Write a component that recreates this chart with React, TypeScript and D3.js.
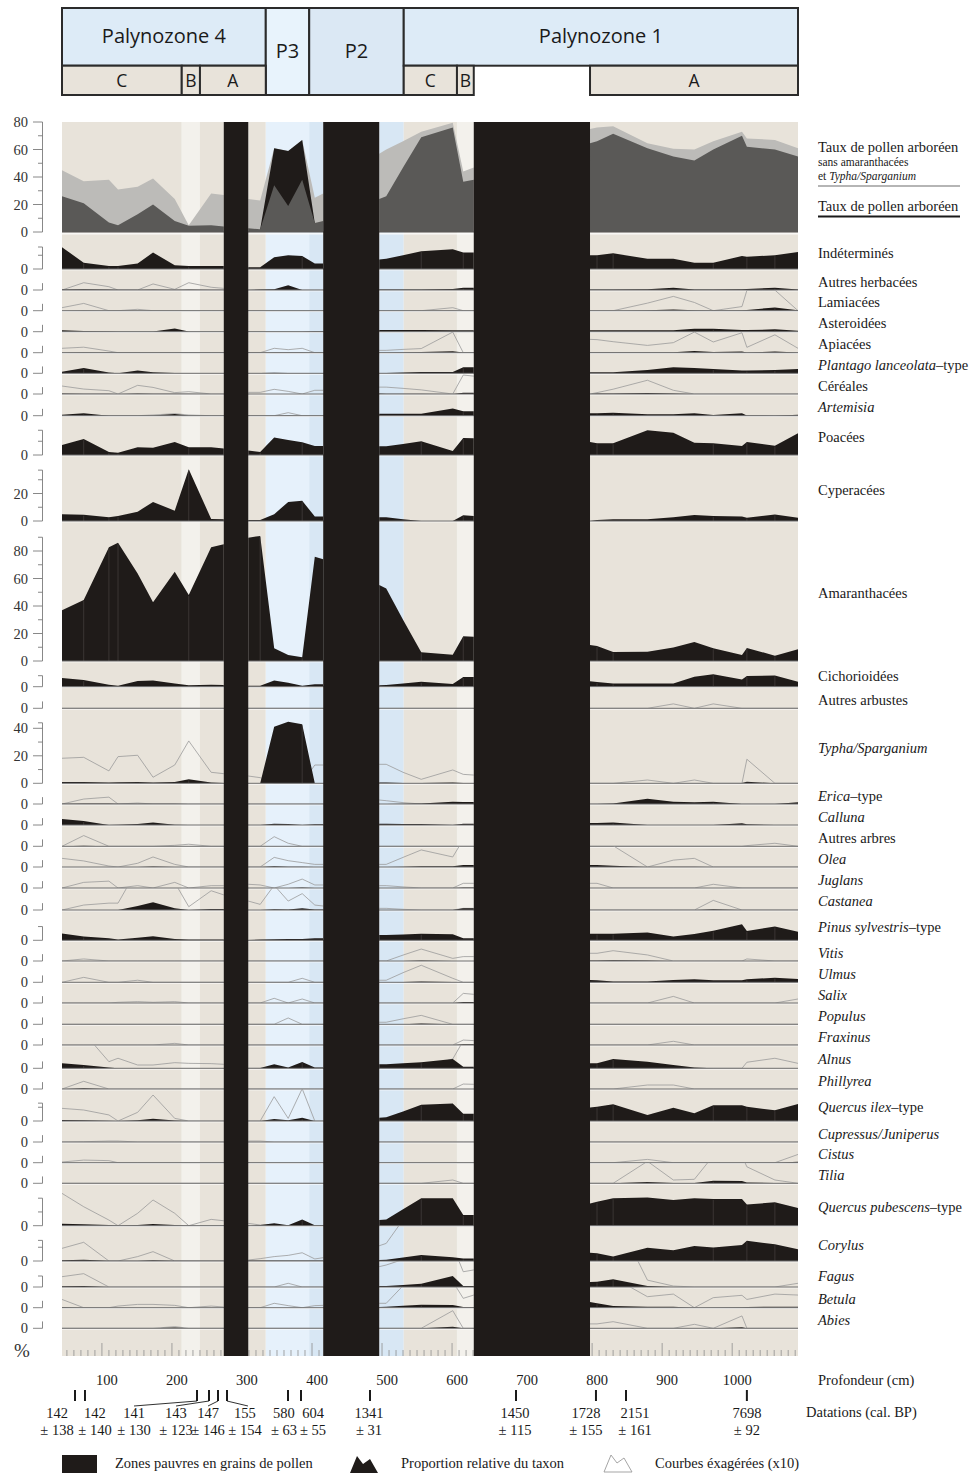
import React from "react";
import * as d3 from "d3";

// ---------- DATA ----------
const depths = [43, 74, 110, 123, 151, 173, 204, 224, 256, 274, 309, 326, 346, 366, 386, 404, 416, 496, 506, 530, 556, 601, 616, 631, 797, 807, 830, 879, 916, 946, 973, 1014, 1021, 1061, 1094];
const sectionBounds = [[0, 10], [10, 17], [17, 24], [24, 35]];
const poorZones = [[274, 309], [416, 496], [631, 797]];
const bandZones: [number, number, string][] = [
  [43, 214, "beige"], [214, 240, "pale"], [240, 274, "beige"], [309, 334, "beige"], [334, 396, "blueLight"],
  [396, 416, "blue"], [496, 531, "blue"], [531, 607, "beige"], [607, 631, "pale"], [797, 1094, "beige"],
];
const mainZones: [string, number, number, string][] = [
  ["Palynozone 4", 43, 334, "pz"], ["P3", 334, 396, "p3"], ["P2", 396, 531, "p2"], ["Palynozone 1", 531, 1094, "pz"],
];
const subZones: [string, number, number][] = [
  ["C", 43, 214], ["B", 214, 240], ["A", 240, 334], ["C", 531, 607], ["B", 607, 631], ["A", 797, 1094],
];
const coreBreakIdx = [1, 2, 3, 7, 11, 14, 20, 22, 25, 26, 30, 32, 33];

const depthTicks = [100, 200, 300, 400, 500, 600, 700, 800, 900, 1000];
const dateDepths = [61.6, 75.8, 235.8, 252.9, 265.8, 278.6, 365.7, 384.3, 482.8, 691.3, 805.5, 848.4, 1021];
const dateAges = ["142", "142", "141", "143", "147", "155", "580", "604", "1341", "1450", "1728", "2151", "7698"];
const dateErrors = ["± 138", "± 140", "± 130", "± 123", "± 146", "± 154", "± 63", "± 55", "± 31", "± 115", "± 155", "± 161", "± 92"];

const taux = [26, 21, 7, 5, 13, 20, 8, 4.6, 5, 4, 2.7, 2, 34, 19, 38, 6.5, 8, 24, 26, 47, 69, 76, 36.5, 38, 64.5, 66, 71.5, 61, 55, 52, 60, 70, 62, 60, 55];
const tauxSans = [45, 37, 38, 31, 33, 39, 24, 5, 28, 27, 24, 23, 61, 59, 67, 25, 28, 57, 60, 66, 73, 79.5, 44, 47, 75, 76, 77, 64.5, 60.5, 60, 66, 73, 68, 67, 61];
const tauxP3 = [null, null, null, null, null, null, null, null, null, null, null, 2, 61, 59, 67, 6.5, null, null, null, null, null, null, null, null, null, null, null, null, null, null, null, null, null, null, null];

const indet = [15.8, 4.6, 2.2, 2.2, 4, 12, 2.7, 2.2, 2.2, 2.2, 1.2, 1.2, 8.5, 10, 9.5, 4, 4, 7, 7.5, 10, 13, 14.3, 12, 12, 10, 10, 11.4, 7.5, 7.5, 4.6, 4.6, 9.5, 9, 10, 12.4];
const autresHerb = [0.3, 0.5, 0.3, 0.2, 0.2, 0.3, 0.2, 0.3, 0.2, 0.2, 0, 0.3, 0.6, 3.4, 0, 0, 0, 0.3, 0.3, 0.3, 0.3, 0.8, 1.7, 1.7, 0.3, 0.3, 0.3, 0.5, 1.7, 0.3, 0.3, 0.5, 0.8, 1.7, 0.3];
const autresHerbX = [0, 5.3, 2.4, 0, 0, 4.4, 0.5, 5.3, 2, 1.2, 0, 0, 0, 0, 0, 0, 0, 0, 0, 0, 0, 0, 0, 0, 0, 0, 0, 0, 0, 0, 0, 0, 0, 0, 0];
const lamiacees = [0, 0.2, 0, 0, 0, 0, 0, 0, 0, 0, 0, 0, 0, 0, 0, 0, 0, 0, 0, 0, 0, 0.2, 0, 0, 0, 0, 0, 0.3, 0.8, 0.3, 0.1, 0.3, 0.5, 2.4, 0.3];
const lamiaceesX = [2.2, 5.3, 0, 0, 1, 0, 0, 0, 0, 0, 0, 0, 0, 0, 0, 0, 0, 0, 0, 0, 0, 2.2, 0, 0, 0, 0, 0, 5.5, 10.4, 6, 0, 3, 14.8, 15, 0];
const asteroidees = [1, 0.5, 0.3, 0.2, 0.2, 0.2, 2.4, 0.2, 0.2, 0.2, 0.2, 0.2, 0.2, 0.2, 0.2, 0.5, 0.5, 1.2, 1.2, 1.2, 1.2, 1, 1, 1, 1, 1, 1, 1, 1, 2.2, 2.2, 1.2, 1.2, 1.7, 0.7];
const apiacees = [0.2, 0.3, 0.2, 0.2, 0.2, 0.2, 0.2, 0.2, 0.2, 0.2, 0.2, 0.2, 0.3, 0.3, 0.3, 0.2, 0.2, 0.2, 0.2, 0.3, 0.5, 1, 0.2, 0.2, 0.3, 0.3, 0.3, 0.3, 0.3, 1.2, 0.5, 0.8, 0.2, 0.8, 0.2];
const apiaceesX = [3.2, 4, 1.2, 0, 0, 0, 0, 0, 0, 0, 0, 0, 3.2, 2.2, 3.2, 0, 0, 1.7, 1.7, 2.4, 3, 15, 0, 0, 9.7, 9.5, 8, 5.3, 7.3, 15, 7.8, 14.5, 3.9, 13, 3.2];
const plantago = [1.2, 3.9, 0.5, 0, 2, 0.7, 0.3, 0.2, 0.2, 0.2, 0.2, 0.2, 0.4, 0.2, 0.2, 0.2, 0.2, 0.2, 0.3, 0.5, 1, 1, 4.4, 4.4, 0.7, 0.7, 0.7, 2.4, 4.4, 3.9, 3.2, 2, 2, 2.4, 3.2];
const cereales = [0.3, 0.1, 0.1, 0, 0.3, 0.1, 0.1, 0.1, 0, 0, 0, 0, 0, 0, 0, 0, 0, 0.3, 0.2, 0.1, 0.1, 0, 1, 1, 0, 0.3, 0.3, 0.8, 0.3, 0, 0, 0, 0, 0, 0];
const cerealesX = [5.8, 3.6, 2.4, 0, 6.3, 4.8, 1, 1.7, 0, 0, 1.2, 1.2, 3.4, 1.9, 0, 2.7, 2.7, 5, 5, 4.1, 3, 0, 13.8, 13, 0, 1, 3.5, 10, 2.7, 0, 0, 0, 0, 0, 0];
const artemisia = [0.7, 1.7, 0, 0, 0, 0.2, 1.2, 0.2, 0, 0, 0, 0, 0, 0.3, 0, 0, 0, 1.5, 1.5, 1.5, 1.5, 5.3, 3.2, 3.2, 1.7, 1.7, 2.2, 1, 1, 1.7, 0.5, 1.7, 0.2, 0, 0.7];
const artemisiaX = [0, 0, 0, 0, 0, 0.5, 1.5, 0.5, 0, 0, 0, 0, 0, 2.2, 0, 0, 0, 0, 0, 0, 0, 0, 0, 0, 0, 0, 0, 0, 0, 0, 0, 0, 0, 0, 0];
const poacees = [7.3, 11.6, 2.2, 1.7, 5.6, 5.3, 9.5, 5.6, 5.6, 4.8, 3.2, 2.2, 12.8, 10.9, 9.2, 6.5, 6.5, 6.3, 6.3, 8, 10, 2.9, 12.4, 12.1, 9.5, 8.5, 8.5, 18, 16.2, 9, 8.5, 6.5, 9.5, 6.8, 15.8];
const cyperacees = [5, 4.6, 2.7, 3.6, 6.8, 13.8, 7.5, 37.6, 1.5, 1.2, 0.7, 0.7, 5, 13.8, 14.8, 3.2, 3.2, 2.7, 2.7, 1.2, 0, 0, 4.1, 3.6, 0, 0.7, 1.2, 1.2, 2.7, 4.4, 3.6, 3.2, 2.4, 4.8, 2.4];
const amaranth = [37, 44.4, 82.7, 86, 63.7, 42.7, 65, 48, 82.7, 85, 89.7, 91, 9.2, 4.4, 2.7, 75.9, 74, 55.3, 52.8, 30, 6.3, 4.6, 18, 17.7, 11.6, 11, 6.5, 6.8, 9.9, 13.8, 9.2, 4.4, 9.5, 3.9, 8.5];
const cichorioidees = [6.3, 4.8, 1.5, 0.7, 4.1, 4.6, 2.4, 1, 1.5, 1.2, 0.7, 0.7, 4.6, 2.9, 0.7, 1.7, 1.7, 1, 1.2, 2.4, 3.6, 1.9, 7, 7, 3.9, 3.4, 2.4, 2.4, 2.4, 7.3, 9, 5.3, 7.8, 8.2, 3.6];
const autresArbustes = [0, 0, 0, 0, 0, 0, 0, 0, 0, 0, 0, 0, 0, 0, 0, 0, 0, 0, 0, 0, 0, 0, 0, 0, 0, 0, 0, 0, 0, 0, 0, 0, 0, 0, 0];
const autresArbustesX = [0, 0, 0, 0, 0, 0, 0, 0, 0, 0, 0, 0, 0, 0, 0, 0, 0, 0, 0, 0, 0, 0, 0, 0, 0, 0, 0, 0, 3.2, 0, 3.2, 0, 0, 0, 0];
const typha = [1, 1, 0.5, 0.7, 1, 0.5, 1, 2.9, 0.5, 0.2, 0, 0, 41.2, 44.8, 42.9, 0, 0, 0.5, 0.5, 0.3, 0.3, 0.5, 0.3, 0.3, 0, 0, 0, 0.2, 0, 0.2, 0, 0.3, 1.2, 0, 0];
const typhaX = [18.2, 18.9, 9, 19.4, 20.4, 4.4, 13.3, 30.8, 8, 7, 5.3, 4.1, 0, 0, 0, 13.3, 13.3, 13.8, 13.8, 8, 2.9, 9.7, 6.5, 6, 0, 0, 0, 2.4, 0, 2.4, 0, 0, 17.5, 0, 0];
const erica = [0.2, 0.3, 0.3, 0.2, 0.2, 0.2, 0.1, 0, 0, 0, 0, 0, 0, 0, 0, 0, 0, 0, 0, 0.1, 0.3, 1.7, 1.5, 1.5, 0, 0, 0.3, 3.8, 1.7, 1.2, 1.7, 0, 0, 0, 1.2];
const ericaX = [0, 3.6, 5, 0, 0.7, 0, 0, 0, 0, 0, 0, 0, 0, 0, 0, 0, 0, 2.9, 2.4, 1, 0, 0, 0, 0, 0, 0, 0, 0, 0, 0, 0, 0, 0, 0, 0];
const calluna = [4.4, 2.9, 0, 0.2, 0.7, 1.9, 0.2, 0, 0, 0, 0, 0, 1, 0.7, 0, 0.5, 0.5, 1, 1, 0.8, 0.7, 0, 1, 1, 1.5, 1.5, 1.9, 0, 0, 0, 0, 1.2, 0.5, 0, 0];
const autresArbres = [0, 0.4, 0, 0, 0, 0, 0, 0, 0, 0, 0, 0, 0.3, 0, 0, 0, 0, 0, 0, 0, 0, 0, 0, 0, 0, 0, 0, 0, 0, 0, 0, 0, 0, 0, 0];
const autresArbresX = [0, 7.8, 0, 0, 0, 0, 0.7, 1.5, 0, 0, 0, 0, 7, 2.2, 0, 0, 0, 0, 0, 0, 0, 0, 0, 0, 0, 0, 0, 0, 0, 0, 0, 0, 0.5, 2.2, 0];
const olea = [0, 0, 0, 0, 0, 0.3, 0, 0, 0, 0, 0, 0, 0.5, 0.2, 0.2, 0, 0, 0, 0, 0.2, 0.5, 0.5, 1.5, 1.5, 1.5, 1.5, 1, 0, 0.2, 0.2, 0, 0, 0, 0, 0];
const oleaX = [6.3, 4.4, 0.7, 0, 2.7, 7.3, 1.9, 0, 0, 0, 0, 0, 7, 4.6, 3.2, 1.9, 1.9, 1.9, 1.9, 7, 12.4, 7.3, 20, 20, 20, 20, 15.5, 0, 5, 6.3, 0, 0, 0, 0, 0];
const juglans = [0, 0, 0, 0, 0, 0, 0, 0, 0, 0, 0, 0, 0, 0, 0.3, 0, 0, 0, 0, 0, 0, 0, 0.3, 0.3, 0, 0, 0, 0, 0, 0, 0, 0, 0, 0, 0];
const juglansX = [0, 4.1, 5, 0, 1.7, 0, 4.1, 0, 1.7, 1.7, 2.7, 2.2, 0, 2.7, 6.5, 2.2, 2.2, 1.7, 1.7, 0.8, 0, 0, 3.4, 3.4, 3.4, 3.4, 0, 0, 0, 0, 2.7, 0, 0, 0, 0];
const castanea = [0, 0, 0, 0, 2.9, 5.6, 1.2, 0, 0.7, 0.7, 0, 0, 0.5, 0.3, 1.2, 0.3, 0.3, 0, 0, 0, 0, 0, 1.2, 1.2, 0, 0, 0, 0, 0, 0, 0.5, 0, 0, 0, 0];
const castaneaX = [0, 3.6, 5, 5, 30, 50, 20, 2.4, 14, 11, 6.5, 4.1, 18, 6.5, 11.9, 3.6, 2.9, 1.2, 1.2, 0.5, 0, 0, 1.2, 1.2, 0, 0, 0, 0, 0, 0, 7, 0, 0, 0, 0];
const pinus = [5, 2.7, 1.5, 0.5, 1.9, 2.9, 1, 0.5, 0.5, 0.5, 0.3, 0.5, 0.7, 1, 1, 1.5, 1.5, 3.9, 3.9, 4.3, 4.8, 4.4, 1.5, 1.5, 4.8, 4.8, 4.8, 5.6, 2.7, 4.6, 7, 11.6, 6.8, 10, 6.3];
const vitis = [0, 0, 0, 0, 0, 0, 0, 0, 0, 0, 0, 0, 0, 0, 0, 0, 0, 0, 0, 0, 0.3, 0, 0, 0, 0.3, 0.3, 0.5, 0.3, 0, 0, 0, 0, 0, 0, 0];
const vitisX = [0, 1.5, 0, 0, 0, 0, 0, 0, 0, 0, 0, 0, 0, 0, 0, 0, 0, 0, 0, 4.3, 8.7, 1.9, 3.2, 3.2, 5.6, 5.6, 7.5, 4.4, 0, 0, 0, 0, 1.5, 0, 0];
const ulmus = [0, 0, 0, 0, 0, 0, 0, 0, 0, 0, 0, 0, 0, 0, 0, 0, 0, 0, 0, 0.2, 0.5, 0.2, 0, 0, 1.7, 1.5, 0.5, 0.5, 1.7, 2.2, 1.5, 1.5, 2.2, 3.4, 2.4];
const ulmusX = [0, 3.6, 0, 0, 1.5, 0, 0, 0, 0, 0, 0, 0, 0, 0, 2.9, 0, 0, 1.5, 1.5, 7, 12.4, 2.9, 0, 0, 0, 0, 0, 0, 0, 0, 0, 0, 0, 0, 0];
const salix = [0, 0, 0, 0, 0, 0, 0, 0, 0, 0, 0, 0, 0, 0, 0, 0, 0, 0, 0, 0, 0, 0, 0.7, 0.7, 0, 0, 0, 0, 0, 0, 0, 0, 0, 0, 0];
const salixX = [0, 0, 0, 0.5, 1, 0.5, 1, 0, 0, 0, 0, 0, 3.4, 0, 2.9, 0, 0, 0, 0, 0, 0, 0, 7, 6.3, 0, 0, 0, 0, 4.8, 0, 0, 0, 0, 0, 2.9];
const populus = [0, 0, 0, 0, 0, 0, 0, 0, 0, 0, 0, 0, 0, 0, 0, 0, 0, 0, 0, 0, 0.5, 0, 0, 0, 0, 0, 0, 0, 0, 0, 0, 0, 0, 0, 0];
const populusX = [0, 0, 0, 0, 0, 0, 0, 0, 0, 0, 0, 0, 0, 4.6, 0, 0, 0, 1.5, 1.5, 4, 6.5, 0, 0, 0, 0, 0, 0, 0, 0, 0, 0, 0, 0, 0, 0];
const fraxinus = [0, 0, 0, 0, 0, 0, 0, 0, 0, 0, 0, 0, 0, 0, 0, 0, 0, 0, 0, 0, 0, 0, 0.5, 0.5, 0, 0, 0, 0, 0, 0, 0, 0, 0, 0, 0];
const fraxinusX = [0, 0, 0, 0, 0, 0, 1.2, 0, 0, 0, 0, 0, 0, 0, 0, 0, 0, 0, 0, 0, 0, 0, 3.6, 3.2, 0, 0, 0, 0, 2.7, 0, 0, 0, 0, 0, 0];
const alnus = [3.6, 2.4, 0.5, 0, 0, 0, 0, 0, 0, 0, 0, 0.3, 2.9, 0.5, 4.6, 0.5, 0.5, 2.9, 2.9, 3.6, 4.4, 6.8, 1.2, 1.2, 3.6, 3.6, 6.8, 4.8, 2.4, 0.5, 0, 0, 0, 0, 0];
const alnusX = [30, 26, 4.8, 7.3, 2.4, 2.4, 4.1, 3.6, 3.4, 2.9, 0, 0, 0, 0, 0, 0, 0, 0, 0, 0, 0, 6.8, 20, 20, 0, 0, 0, 0, 0, 0, 0, 0, 4.4, 7.3, 3.6];
const phillyrea = [0, 0.5, 0, 0, 0, 0, 0, 0, 0, 0, 0, 0, 0, 0, 0, 0, 0, 0, 0, 0, 0, 0, 0, 0, 0, 0, 0, 0, 0, 0, 0, 0, 0, 0, 0];
const phillyreaX = [0, 5.6, 0, 0, 0, 0, 0, 0, 0, 0, 0, 0, 0, 0, 0, 0, 0, 0, 0, 0, 0, 0, 3.6, 3.4, 0, 0, 0, 2.9, 2.9, 0, 0, 0, 0, 0, 0];
const quercusIlex = [0.7, 0.5, 0.2, 0, 0.5, 1.7, 0.3, 0, 0, 0, 0, 0, 1.5, 0.5, 2.4, 0, 0, 2.4, 2.7, 7, 11.9, 12.8, 5.3, 5.3, 9.9, 10.4, 12.1, 4.4, 9.7, 5.6, 11.4, 11.4, 10.4, 7.8, 12.4];
const quercusIlexX = [9.2, 8, 4.4, 0, 6.3, 18.9, 1.9, 0, 0, 0, 0, 0, 17.7, 1.9, 23.5, 0, 0, 0, 0, 0, 0, 0, 0, 0, 0, 0, 0, 0, 0, 0, 0, 0, 0, 0, 0];
const cupressus = [0, 0, 0, 0, 0, 0, 0, 0, 0, 0, 0, 0, 0, 0, 0, 0, 0, 0, 0, 0, 0, 0, 0, 0, 0, 0, 0, 0, 0, 0, 0, 0, 0, 0, 0];
const cupressusX = [0, 0.2, 0.7, 0.7, 0, 0, 0, 0, 0, 0, 0.7, 0.7, 0, 0, 0, 0, 0, 0, 0, 0, 0, 0, 0, 0, 0, 0, 0, 0, 0, 0, 0, 0, 0, 0, 0];
const cistus = [0, 0, 0, 0, 0, 0, 0, 0, 0, 0, 0, 0, 0, 0, 0, 0, 0, 0, 0, 0, 0, 0, 0, 0, 0, 0, 0, 0, 0, 0, 0, 0, 0, 0, 0.7];
const cistusX = [0.5, 1.9, 1.5, 0, 0, 0, 0, 0, 0, 0, 0, 0, 0, 0, 0, 0, 0, 0, 0, 0, 0, 0, 0, 0, 0, 0, 0, 2.4, 0, 0, 0, 0, 0, 0, 6];
const tilia = [0, 0, 0, 0, 0, 0, 0, 0, 0, 0, 0, 0, 0, 0, 0, 0, 0, 0, 0, 0, 0, 0, 0, 0, 0, 0, 0, 1, 0.3, 0.2, 1.9, 1.7, 0.5, 0.2, 0];
const tiliaX = [0, 0, 0, 0, 0, 0, 0, 0, 0, 0, 0, 0, 0, 0, 0, 0, 0, 0, 0, 0, 0, 2.4, 0, 0, 0, 0, 0, 16, 2.4, 2.9, 20, 20, 12, 2.4, 0];
const quercusPub = [1.5, 1, 0.5, 0.2, 0.5, 1.2, 0.5, 0.2, 0.2, 0.2, 0, 0.5, 1.7, 0.3, 4.6, 0.3, 0.3, 4.1, 4.6, 12, 19.9, 19.9, 7.8, 7.8, 16.2, 17.5, 20, 20.6, 18.7, 20, 19.4, 19.4, 15.5, 17, 12.8];
const quercusPubX = [23.5, 13.8, 4.1, 0, 9, 18.7, 9, 0, 4.6, 3.6, 1.7, 0.5, 0, 0, 0, 0, 0, 0, 0, 0, 0, 0, 0, 0, 0, 0, 0, 0, 0, 0, 0, 0, 0, 0, 0];
const corylus = [0.5, 1, 0.2, 0.2, 0.2, 0.5, 0.2, 0.2, 0.2, 0.2, 0.3, 0.3, 0.3, 0.3, 0.3, 0.3, 0.3, 0.7, 1, 2.5, 4.4, 2.7, 1.9, 1.9, 6, 5.6, 3.2, 9.7, 7.8, 10.9, 9.9, 11.6, 14.8, 12.1, 8.5];
const corylusX = [9.2, 13.6, 0, 0, 3.2, 6.8, 0, 0, 0, 0, 0.7, 1.7, 3.2, 4.1, 6, 1.5, 2.4, 11.1, 12.8, 30, 44, 40, 30, 30, 0, 0, 0, 0, 0, 0, 0, 0, 0, 0, 0];
const fagus = [0.5, 0.7, 0, 0, 0, 0, 0, 0, 0, 0, 0, 0, 0, 0, 0, 0, 0, 0.7, 0.7, 1.5, 2.4, 8, 0.7, 0.7, 3.6, 3.9, 5.6, 0.7, 0, 0, 0, 0, 0, 0, 0];
const fagusX = [7.5, 9.7, 0, 0, 0, 0, 0, 0, 0, 0, 0, 0, 0, 2.7, 0, 0, 0, 14.8, 16, 20, 30, 30, 11.1, 12.4, 36, 39, 55, 5, 0.7, 0, 0, 0, 0, 0, 2.7];
const betula = [0.5, 0, 0, 0, 0, 0, 0, 0, 0, 0, 0, 0, 0, 0, 0, 0, 0, 0.5, 0.7, 1.5, 2.2, 1.9, 0.5, 0.5, 4.1, 3.2, 1.2, 0.7, 0.7, 0, 0.2, 0.3, 0.5, 0.7, 0.7];
const betulaX = [6, 0, 0, 1.2, 2.4, 2.4, 1.7, 0, 1.2, 0.5, 0, 0, 3.2, 1.5, 0, 1.5, 1.7, 3.2, 3.2, 16, 22, 19, 6.8, 9.2, 41, 32, 22, 8, 9.9, 0, 7.3, 9, 6, 9.9, 9.2];
const abies = [0, 0, 0, 0, 0, 0, 0.5, 0, 0, 0, 0, 0, 0, 0, 0, 0, 0, 0, 0, 0, 0, 1.2, 0, 0, 0.3, 0.3, 0.3, 0, 0, 0, 0, 0.7, 0, 0, 0];
const abiesX = [0, 0, 0, 0, 0, 0, 1.2, 0, 0, 0, 0, 0, 0, 0, 0, 0, 0, 0, 0, 0, 0, 12.8, 0, 0, 3.2, 3.2, 4.8, 0, 0, 2.9, 0, 9, 0, 0, 0];

type Seg = [string, boolean];
type Taxon = { label: Seg[]; values: number[]; exag?: number[]; axisMax: number; axisLabels?: number[] };

const taxa: Taxon[] = [
  { label: [["Indéterminés", false]], values: indet, axisMax: 16 },
  { label: [["Autres herbacées", false]], values: autresHerb, exag: autresHerbX, axisMax: 5 },
  { label: [["Lamiacées", false]], values: lamiacees, exag: lamiaceesX, axisMax: 5 },
  { label: [["Asteroidées", false]], values: asteroidees, axisMax: 5 },
  { label: [["Apiacées", false]], values: apiacees, exag: apiaceesX, axisMax: 5 },
  { label: [["Plantago lanceolata", true], ["–type", false]], values: plantago, axisMax: 5 },
  { label: [["Céréales", false]], values: cereales, exag: cerealesX, axisMax: 5 },
  { label: [["Artemisia", true]], values: artemisia, exag: artemisiaX, axisMax: 5 },
  { label: [["Poacées", false]], values: poacees, axisMax: 18 },
  { label: [["Cyperacées", false]], values: cyperacees, axisMax: 37, axisLabels: [20] },
  { label: [["Amaranthacées", false]], values: amaranth, axisMax: 90, axisLabels: [20, 40, 60, 80] },
  { label: [["Cichorioidées", false]], values: cichorioidees, axisMax: 8 },
  { label: [["Autres arbustes", false]], values: autresArbustes, exag: autresArbustesX, axisMax: 5 },
  { label: [["Typha/Sparganium", true]], values: typha, exag: typhaX, axisMax: 44, axisLabels: [20, 40] },
  { label: [["Erica", true], ["–type", false]], values: erica, exag: ericaX, axisMax: 5 },
  { label: [["Calluna", true]], values: calluna, axisMax: 5 },
  { label: [["Autres arbres", false]], values: autresArbres, exag: autresArbresX, axisMax: 5 },
  { label: [["Olea", true]], values: olea, exag: oleaX, axisMax: 5 },
  { label: [["Juglans", true]], values: juglans, exag: juglansX, axisMax: 5 },
  { label: [["Castanea", true]], values: castanea, exag: castaneaX, axisMax: 5 },
  { label: [["Pinus sylvestris", true], ["–type", false]], values: pinus, axisMax: 10 },
  { label: [["Vitis", true]], values: vitis, exag: vitisX, axisMax: 5 },
  { label: [["Ulmus", true]], values: ulmus, exag: ulmusX, axisMax: 5 },
  { label: [["Salix", true]], values: salix, exag: salixX, axisMax: 5 },
  { label: [["Populus", true]], values: populus, exag: populusX, axisMax: 5 },
  { label: [["Fraxinus", true]], values: fraxinus, exag: fraxinusX, axisMax: 5 },
  { label: [["Alnus", true]], values: alnus, exag: alnusX, axisMax: 5 },
  { label: [["Phillyrea", true]], values: phillyrea, exag: phillyreaX, axisMax: 5 },
  { label: [["Quercus ilex", true], ["–type", false]], values: quercusIlex, exag: quercusIlexX, axisMax: 13 },
  { label: [["Cupressus/Juniperus", true]], values: cupressus, exag: cupressusX, axisMax: 5 },
  { label: [["Cistus", true]], values: cistus, exag: cistusX, axisMax: 5 },
  { label: [["Tilia", true]], values: tilia, exag: tiliaX, axisMax: 5 },
  { label: [["Quercus pubescens", true], ["–type", false]], values: quercusPub, exag: quercusPubX, axisMax: 20 },
  { label: [["Corylus", true]], values: corylus, exag: corylusX, axisMax: 15 },
  { label: [["Fagus", true]], values: fagus, exag: fagusX, axisMax: 8 },
  { label: [["Betula", true]], values: betula, exag: betulaX, axisMax: 5 },
  { label: [["Abies", true]], values: abies, exag: abiesX, axisMax: 5 },
];

// ---------- LAYOUT ----------
const panelHeights = [110, 37, 21, 20.7, 21, 21, 20.6, 20.7, 21.7, 39.3, 66, 140, 25.7, 21.6, 75, 20.7, 21, 21.3, 20.7, 21, 22, 30.3, 20.7, 21.3, 20.7, 21.3, 20.7, 23.3, 20.7, 32, 21, 20.7, 20.6, 42.4, 35.3, 26, 20.7, 20.6];
const dateLabelShift = [-18, 10, -63, -33, -10, 18, -4, 12, -1, -1, -10, 9, 0];
const K = 1.375;
const CHART_TOP = 122;
const CHART_BOTTOM = 1356;
const X0 = 62;
const X1 = 798;
const AXIS_X = 42.5;
const LABEL_X = 818;

const COLORS: Record<string, string> = {
  beige: "#e8e3da",
  pale: "#f3f1ec",
  blueLight: "#e6f1fb",
  blue: "#d8e7f4",
  pz: "#ddebf7",
  p3: "#e8f3fc",
  p2: "#dbe8f4",
};
const BLACK = "#1f1b19";
const SERIF = '"Liberation Serif", "Times New Roman", serif';
const SANS = '"Open Sans", "Noto Sans", sans-serif';

const xScale = d3.scaleLinear().domain([43, 1094]).range([X0, X1]);

export default function App() {
  const tops: number[] = [];
  const bases: number[] = [];
  let acc = CHART_TOP;
  for (const h of panelHeights) {
    tops.push(acc);
    acc += h;
    bases.push(acc);
  }
  const yFor = (base: number) => d3.scaleLinear().domain([0, 1]).range([base, base - K]);

  const areaPaths = (vals: (number | null)[], base: number) => {
    const y = yFor(base);
    const gen = d3
      .area<number>()
      .defined((i) => vals[i] != null)
      .x((i) => xScale(depths[i]))
      .y0(base)
      .y1((i) => y(vals[i] as number));
    return sectionBounds.map(([a, b]) => gen(d3.range(a, b)) || "");
  };
  const linePaths = (vals: number[], base: number) => {
    const y = yFor(base);
    const gen = d3
      .line<number>()
      .x((i) => xScale(depths[i]))
      .y((i) => y(vals[i]));
    return sectionBounds.map(([a, b]) => gen(d3.range(a, b)) || "");
  };

  const axis = (base: number, max: number, labels: number[], key: string, topTick: boolean) => {
    const y = yFor(base);
    const ticks = d3.range(10, max + 0.01, 10);
    return (
      <g key={key} stroke="#7a7a7a" strokeWidth={0.9}>
        <line x1={AXIS_X} x2={AXIS_X} y1={base} y2={y(max)} />
        <line x1={33} x2={AXIS_X} y1={base} y2={base} />
        {ticks.map((t) => (
          <line key={t} x1={labels.includes(t) ? 33 : 38} x2={AXIS_X} y1={y(t)} y2={y(t)} />
        ))}
        {topTick && max % 10 !== 0 && <line x1={38} x2={AXIS_X} y1={y(max)} y2={y(max)} />}
        <text x={28} y={base} dy="0.35em" textAnchor="end" stroke="none" fill="#333" fontFamily={SERIF} fontSize={14.5}>
          0
        </text>
        {labels.map((l) => (
          <text key={l} x={28} y={y(l)} dy="0.35em" textAnchor="end" stroke="none" fill="#333" fontFamily={SERIF} fontSize={14.5}>
            {l}
          </text>
        ))}
      </g>
    );
  };

  const tauxBase = bases[0];
  const minorTicks = d3.range(50, 1094, 10);

  const mountain = (x0: number, yb: number) =>
    `M${x0},${yb} L${x0 + 7},${yb - 17} L${x0 + 13},${yb - 9} L${x0 + 20},${yb - 14} L${x0 + 28},${yb} Z`;

  return (
    <svg width={975} height={1474} viewBox="0 0 975 1474" style={{ position: "absolute", left: 0, top: 0, background: "#fff" }}>
      <defs>
        {tops.map((t, i) => (
          <clipPath id={`clip-${i}`} key={i}>
            <rect x={X0} y={t} width={X1 - X0} height={panelHeights[i]} />
          </clipPath>
        ))}
      </defs>

      {/* Header zones */}
      <g stroke="#2b2b2b" strokeWidth={2}>
        {mainZones.map(([label, a, b, kind]) => {
          const full = kind !== "pz";
          return (
            <g key={label}>
              <rect x={xScale(a)} y={8} width={xScale(b) - xScale(a)} height={full ? 87 : 57.7} fill={COLORS[kind]} />
              <text
                x={(xScale(a) + xScale(b)) / 2}
                y={full ? 58 : 43}
                textAnchor="middle"
                stroke="none"
                fill="#1a1a1a"
                fontFamily={SANS}
                fontSize={20}
              >
                {label}
              </text>
            </g>
          );
        })}
        {subZones.map(([label, a, b], i) => (
          <g key={i}>
            <rect x={xScale(a)} y={65.7} width={xScale(b) - xScale(a)} height={29.3} fill={COLORS.beige} />
            <text x={(xScale(a) + xScale(b)) / 2} y={87} textAnchor="middle" stroke="none" fill="#1a1a1a" fontFamily={SANS} fontSize={17.5}>
              {label}
            </text>
          </g>
        ))}
      </g>

      {/* Background bands */}
      {bandZones.map(([a, b, kind], i) => (
        <rect key={i} x={xScale(a)} y={CHART_TOP} width={xScale(b) - xScale(a)} height={CHART_BOTTOM - CHART_TOP} fill={COLORS[kind]} />
      ))}

      {/* Panel separators */}
      {bases.map((b, i) => (
        <line key={i} x1={X0} x2={X1} y1={b + (i === 0 ? 1.5 : 0.9)} y2={b + (i === 0 ? 1.5 : 0.9)} stroke="#fff" strokeWidth={i === 0 ? 2 : 1} opacity={0.75} />
      ))}

      {/* Taux panel */}
      <g clipPath="url(#clip-0)">
        {areaPaths(tauxSans, tauxBase).map((d, i) => (
          <path key={"l" + i} d={d} fill="#bcbbb8" />
        ))}
        {areaPaths(tauxP3, tauxBase).map((d, i) => (
          <path key={"b" + i} d={d} fill={BLACK} />
        ))}
        {areaPaths(taux, tauxBase).map((d, i) => (
          <path key={"d" + i} d={d} fill="#5a5957" />
        ))}
      </g>
      <line x1={X0} x2={X1} y1={tauxBase} y2={tauxBase} stroke="#5a5957" strokeWidth={1} />

      {/* Taxa panels */}
      {taxa.map((t, ti) => {
        const pi = ti + 1;
        const base = bases[pi];
        const y = yFor(base);
        return (
          <g key={ti}>
            <g clipPath={`url(#clip-${pi})`}>
              {t.exag &&
                linePaths(t.exag, base).map((d, i) => (
                  <path key={"x" + i} d={d} fill="none" stroke="#9b9b9b" strokeWidth={0.8} />
                ))}
              {areaPaths(t.values, base).map((d, i) => (
                <path key={"a" + i} d={d} fill={BLACK} />
              ))}
              {coreBreakIdx
                .filter((i) => t.values[i] > 1.5)
                .map((i) => (
                  <line key={"c" + i} x1={xScale(depths[i])} x2={xScale(depths[i])} y1={base} y2={y(t.values[i]) + 1} stroke="#4d4846" strokeWidth={0.6} />
                ))}
            </g>
            <line x1={X0} x2={X1} y1={base} y2={base} stroke="#6e6e6e" strokeWidth={1} />
          </g>
        );
      })}

      {/* Bottom depth ticks */}
      <g stroke="#8e8e8e" strokeWidth={0.8}>
        {minorTicks.map((d) => (
          <line key={d} x1={xScale(d)} x2={xScale(d)} y1={d % 100 === 0 ? 1343 : 1350} y2={CHART_BOTTOM} />
        ))}
      </g>

      {/* Pollen-poor zones */}
      {poorZones.map(([a, b], i) => (
        <rect key={i} x={xScale(a)} y={CHART_TOP} width={xScale(b) - xScale(a)} height={CHART_BOTTOM - CHART_TOP} fill={BLACK} />
      ))}

      {/* Left axes */}
      {axis(tauxBase, 80, [20, 40, 60, 80], "taux", false)}
      {taxa.map((t, ti) => axis(bases[ti + 1], t.axisMax, t.axisLabels || [], "ax" + ti, t.axisMax > 5))}
      <text x={14} y={1357} fontFamily={SERIF} fontSize={19} fill="#333">
        %
      </text>

      {/* Right labels */}
      <g fontFamily={SERIF} fill="#1a1a1a">
        <text x={LABEL_X} y={152} fontSize={14.5}>Taux de pollen arboréen</text>
        <text x={LABEL_X} y={166} fontSize={11.5}>sans amaranthacées</text>
        <text x={LABEL_X} y={180} fontSize={11.5}>
          et <tspan fontStyle="italic">Typha/Sparganium</tspan>
        </text>
        <line x1={LABEL_X} x2={960} y1={186} y2={186} stroke="#b5b5b5" strokeWidth={2} />
        <text x={LABEL_X} y={211} fontSize={14.5}>Taux de pollen arboréen</text>
        <line x1={LABEL_X} x2={960} y1={216.5} y2={216.5} stroke="#1a1a1a" strokeWidth={2} />
        {taxa.map((t, ti) => {
          const pi = ti + 1;
          const cy = (tops[pi] + bases[pi]) / 2 + 2;
          return (
            <text key={ti} x={LABEL_X} y={cy} dy="0.35em" fontSize={14.5}>
              {t.label.map(([s, it], k) => (
                <tspan key={k} fontStyle={it ? "italic" : "normal"}>
                  {s}
                </tspan>
              ))}
            </text>
          );
        })}
      </g>

      {/* Depth labels */}
      <g fontFamily={SERIF} fontSize={14.5} fill="#1a1a1a">
        {depthTicks.map((d) => (
          <text key={d} x={xScale(d) + 5} y={1385} textAnchor="middle">
            {d}
          </text>
        ))}
        <text x={LABEL_X} y={1385}>Profondeur (cm)</text>
        <text x={806} y={1417}>Datations (cal. BP)</text>
        {dateDepths.map((d, i) => {
          const tx = xScale(d);
          const lx = tx + dateLabelShift[i];
          return (
            <g key={i}>
              <line x1={tx} x2={tx} y1={1390} y2={1401} stroke="#1a1a1a" strokeWidth={2} />
              {i >= 2 && i <= 5 && <line x1={tx} x2={lx + (i === 5 ? 3 : 0)} y1={1401} y2={1406} stroke="#1a1a1a" strokeWidth={0.9} />}
              <text x={lx} y={1418} textAnchor="middle">
                {dateAges[i]}
              </text>
              <text x={lx} y={1435} textAnchor="middle">
                {dateErrors[i]}
              </text>
            </g>
          );
        })}
      </g>

      {/* Legend */}
      <g fontFamily={SERIF} fontSize={14.5} fill="#1a1a1a">
        <rect x={62} y={1455} width={35} height={18} fill={BLACK} />
        <text x={115} y={1468}>Zones pauvres en grains de pollen</text>
        <path d={mountain(350, 1473)} fill={BLACK} />
        <text x={401} y={1468}>Proportion relative du taxon</text>
        <path d={mountain(604, 1472)} fill="none" stroke="#9b9b9b" strokeWidth={0.9} />
        <text x={655} y={1468}>Courbes éxagérées (x10)</text>
      </g>
    </svg>
  );
}
